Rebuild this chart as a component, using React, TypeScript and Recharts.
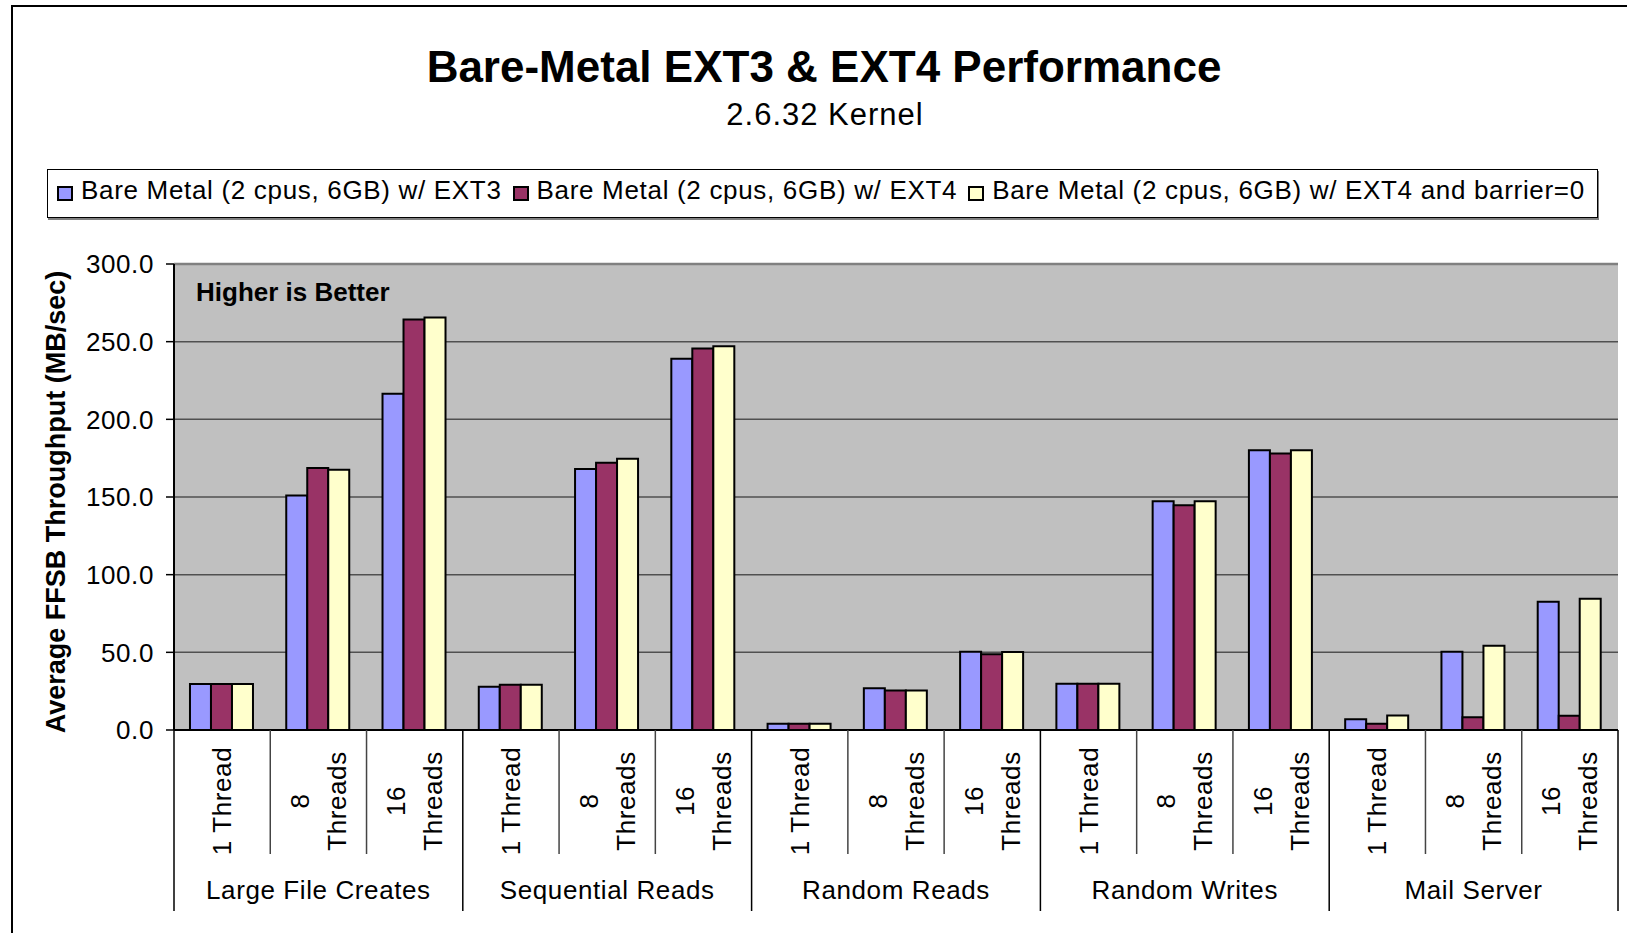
import React from "react"
import { BarChart, Bar, XAxis, YAxis, CartesianGrid, ReferenceLine } from "recharts"

const FONT = '"Liberation Sans", Arial, Helvetica, sans-serif'

const groups = ["Large File Creates", "Sequential Reads", "Random Reads", "Random Writes", "Mail Server"]
const threadLabels = ["1 Thread", "8 Threads", "16 Threads"]
const seriesNames = [
  "Bare Metal (2 cpus, 6GB) w/ EXT3",
  "Bare Metal (2 cpus, 6GB) w/ EXT4",
  "Bare Metal (2 cpus, 6GB) w/ EXT4 and barrier=0",
]
const COLORS = ["#9999FF", "#993366", "#FFFFCC"]

// values in MB/sec, one per (group, thread count)
const ext3 = [29.6, 151, 216.5, 27.8, 168, 239, 4, 26.8, 50.3, 29.7, 147.3, 180.1, 6.9, 50.4, 82.6]
const ext4 = [29.6, 168.7, 264.2, 29.1, 172, 245.6, 4, 25.5, 48.7, 29.7, 144.7, 178, 4.1, 8.2, 9.2]
const ext4NoBarrier = [29.6, 167.6, 265.5, 29.1, 174.7, 247, 4, 25.5, 50.2, 29.7, 147.3, 180.1, 9.4, 54.3, 84.5]

const yTicks = [0, 50, 100, 150, 200, 250, 300]

const data = groups.flatMap((group, gi) =>
  threadLabels.map((threads, ti) => {
    const i = gi * 3 + ti
    return { id: i, group, threads, ext3: ext3[i], ext4: ext4[i], ext4nb: ext4NoBarrier[i] }
  })
)

const textStyle = { fontFamily: FONT, fontSize: 26, letterSpacing: 0.6, fill: "#000" }

function CategoryTick(props: any) {
  const { x, y, payload } = props
  const i = Number(payload.value)
  const row = data[i]
  const half = payload.offset || 48.13
  const label: string = row.threads
  const lines = label.length > 8 ? [label.slice(0, label.indexOf(" ")), label.slice(label.indexOf(" ") + 1)] : [label]
  const startOfGroup = i % 3 === 0
  const last = i === data.length - 1
  return (
    <g>
      <text transform={`translate(${x},${y + 71}) rotate(-90)`} textAnchor="middle" style={textStyle}>
        {lines.map((l, k) => (
          <tspan key={k} x={0} y={9 + (k - (lines.length - 1) / 2) * 37}>
            {l}
          </tspan>
        ))}
      </text>
      <line
        x1={x - half}
        x2={x - half}
        y1={y}
        y2={startOfGroup ? y + 181 : y + 124}
        stroke={startOfGroup ? "#000" : "#444"}
        strokeWidth={1.5}
      />
      {last && <line x1={x + half} x2={x + half} y1={y} y2={y + 181} stroke="#000" strokeWidth={1.5} />}
      {i % 3 === 1 && (
        <text x={x} y={y + 169} textAnchor="middle" style={textStyle}>
          {row.group}
        </text>
      )}
    </g>
  )
}

function YLabel(props: any) {
  const vb = props.viewBox || { x: 0, y: 264, width: 174, height: 466 }
  const cy = vb.y + vb.height / 2 + 5
  return (
    <text
      transform={`translate(65,${cy}) rotate(-90)`}
      textAnchor="middle"
      style={{ fontFamily: FONT, fontSize: 27, fontWeight: "bold", fill: "#000" }}
    >
      Average FFSB Throughput (MB/sec)
    </text>
  )
}

export default function App() {
  return (
    <div style={{ position: "absolute", left: 0, top: 0, width: 1627, height: 933, overflow: "hidden", background: "#fff" }}>
      <div
        style={{
          position: "absolute",
          left: 11,
          top: 5,
          width: 1700,
          height: 1000,
          borderLeft: "2px solid #000",
          borderTop: "2px solid #000",
        }}
      />
      <BarChart
        width={1627}
        height={933}
        data={data}
        margin={{ top: 264, right: 9, left: 0, bottom: 0 }}
        barCategoryGap="16.6%"
        barGap={0}
        style={{ position: "absolute", left: 0, top: 0 }}
      >
        <CartesianGrid vertical={false} fill="#C0C0C0" fillOpacity={1} stroke="#505050" strokeWidth={1.5} />
        <ReferenceLine y={300} stroke="#808080" strokeWidth={2.5} />
        <XAxis
          dataKey="id"
          height={203}
          interval={0}
          tickLine={false}
          tickSize={0}
          tickMargin={0}
          axisLine={{ stroke: "#000", strokeWidth: 2 }}
          tick={(p: any) => <CategoryTick {...p} />}
        />
        <YAxis
          width={174}
          domain={[0, 300]}
          ticks={yTicks}
          interval={0}
          tickSize={8}
          tickMargin={12}
          tickFormatter={(v: number) => v.toFixed(1)}
          tick={{ ...textStyle }}
          tickLine={{ stroke: "#000", strokeWidth: 1.5 }}
          axisLine={{ stroke: "#000", strokeWidth: 2 }}
          label={(p: any) => <YLabel {...p} />}
        />
        <YAxis
          yAxisId="frame"
          orientation="right"
          width={0}
          domain={[0, 300]}
          tick={false}
          tickLine={false}
          axisLine={{ stroke: "#808080", strokeWidth: 3 }}
        />
        <Bar dataKey="ext3" name={seriesNames[0]} fill={COLORS[0]} stroke="#000" strokeWidth={2} isAnimationActive={false} />
        <Bar dataKey="ext4" name={seriesNames[1]} fill={COLORS[1]} stroke="#000" strokeWidth={2} isAnimationActive={false} />
        <Bar dataKey="ext4nb" name={seriesNames[2]} fill={COLORS[2]} stroke="#000" strokeWidth={2} isAnimationActive={false} />
      </BarChart>

      <div
        style={{
          position: "absolute",
          left: 0,
          width: 1648,
          top: 44.5,
          textAlign: "center",
          fontFamily: FONT,
          fontSize: 44,
          lineHeight: "44px",
          fontWeight: "bold",
        }}
      >
        Bare-Metal EXT3 &amp; EXT4 Performance
      </div>
      <div
        style={{
          position: "absolute",
          left: 0,
          width: 1650,
          top: 99,
          textAlign: "center",
          fontFamily: FONT,
          fontSize: 31,
          lineHeight: "31px",
          letterSpacing: 1,
        }}
      >
        2.6.32 Kernel
      </div>

      <div
        style={{
          position: "absolute",
          left: 47,
          top: 169,
          width: 1551,
          height: 49,
          boxSizing: "border-box",
          border: "1px solid #000",
          boxShadow: "1px 2px 0 #808080",
          display: "flex",
          alignItems: "center",
          paddingLeft: 9,
          paddingBottom: 6,
          fontFamily: FONT,
          fontSize: 26,
          letterSpacing: 0.68,
          whiteSpace: "nowrap",
        }}
      >
        {seriesNames.map((name, k) => (
          <div key={name} style={{ display: "flex", alignItems: "center", marginRight: 11 }}>
            <span
              style={{
                display: "inline-block",
                width: 12,
                height: 11,
                background: COLORS[k],
                border: "2px solid #000",
                marginRight: 8,
                position: "relative",
                top: 3,
              }}
            />
            <span>{name}</span>
          </div>
        ))}
      </div>

      <div
        style={{
          position: "absolute",
          left: 196,
          top: 279,
          fontFamily: FONT,
          fontSize: 26,
          lineHeight: "26px",
          fontWeight: "bold",
        }}
      >
        Higher is Better
      </div>
    </div>
  )
}
